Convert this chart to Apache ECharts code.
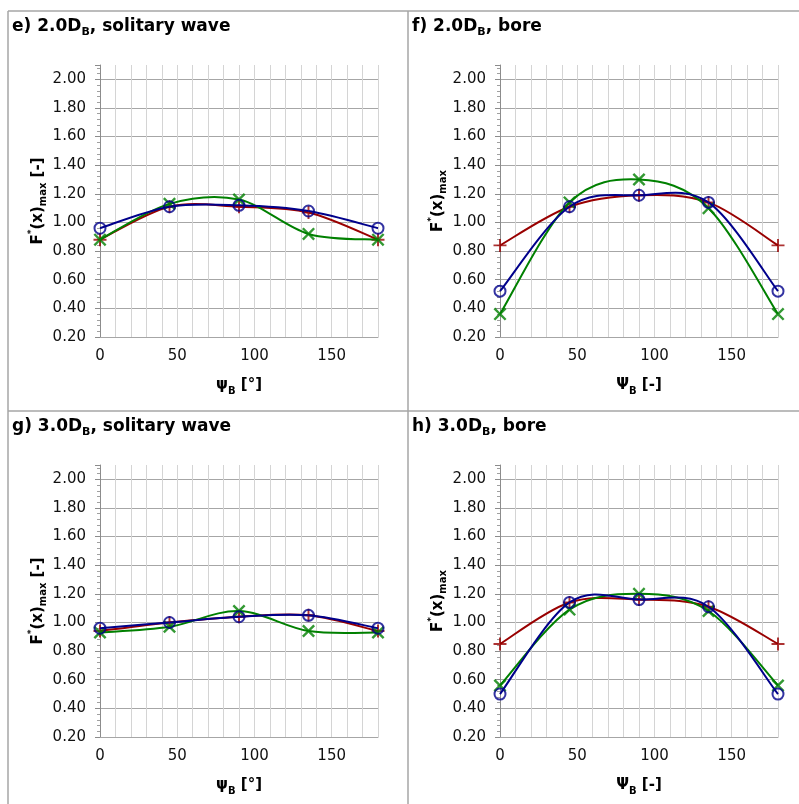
<!DOCTYPE html>
<html>
<head>
<meta charset="utf-8">
<script src="https://cdn.jsdelivr.net/npm/echarts@6/dist/echarts.min.js"></script>
<style>
html,body{margin:0;padding:0;background:#fff;}
#chart{width:799px;height:804px;}
</style>
</head>
<body>
<div id="chart"></div>
<script>
// ---- data ----
const angles = [0, 45, 90, 135, 180];

const e_red   = [0.88, 1.11, 1.11, 1.07, 0.88];
const e_green = [0.88, 1.13, 1.16, 0.92, 0.88];
const e_blue  = [0.96, 1.11, 1.12, 1.08, 0.96];

const f_red   = [0.84, 1.11, 1.19, 1.14, 0.84];
const f_green = [0.36, 1.14, 1.30, 1.10, 0.36];
const f_blue  = [0.52, 1.11, 1.19, 1.14, 0.52];

const g_red   = [0.94, 1.00, 1.04, 1.05, 0.94];
const g_green = [0.93, 0.97, 1.08, 0.94, 0.93];
const g_blue  = [0.96, 1.00, 1.04, 1.05, 0.96];

const h_red   = [0.85, 1.14, 1.16, 1.11, 0.85];
const h_green = [0.56, 1.09, 1.20, 1.08, 0.56];
const h_blue  = [0.50, 1.14, 1.16, 1.11, 0.50];

const xTickLabels = [0, 50, 100, 150];
const yTickLabels = ['0.20','0.40','0.60','0.80','1.00','1.20','1.40','1.60','1.80','2.00'];

const panelTitles = [
  ['e) 2.0D', 'B', ', solitary wave'],
  ['f) 2.0D', 'B', ', bore'],
  ['g) 3.0D', 'B', ', solitary wave'],
  ['h) 3.0D', 'B', ', bore']
];
const xNames = [['ψ','B',' [°]'], ['Ψ','B',' [-]'], ['ψ','B',' [°]'], ['Ψ','B',' [-]']];
const yNames = [' [-]', '', ' [-]', ''];

// ---- layout / style ----
const FONT = 'DejaVu Sans';
const RED = '#990000', GREEN = '#008000', BLUE = '#00008B';
const panels = [
  {left: 100, top: 65,  tx: 12,  ty: 16,  data: [e_red, e_green, e_blue]},
  {left: 500, top: 65,  tx: 412, ty: 16,  data: [f_red, f_green, f_blue]},
  {left: 100, top: 465, tx: 12,  ty: 416, data: [g_red, g_green, g_blue]},
  {left: 500, top: 465, tx: 412, ty: 416, data: [h_red, h_green, h_blue]}
];
const PLUS = 'path://M8.5,0H11.5V8.5H20V11.5H11.5V20H8.5V11.5H0V8.5H8.5Z';

const grids = [], xAxes = [], yAxes = [], series = [], titles = [];

const richBase = {
  b:   {fontFamily: FONT, fontWeight: 'bold', fontSize: 15, lineHeight: 22, color: '#000'},
  s:   {fontFamily: FONT, fontWeight: 'bold', fontSize: 10, lineHeight: 10, verticalAlign: 'bottom', color: '#000'},
  sup: {fontFamily: FONT, fontWeight: 'bold', fontSize: 9, lineHeight: 9, verticalAlign: 'top', color: '#000'}
};

// Excel-style smoothed segment (uniform Catmull-Rom as cubic Bezier), drawn through the axes' coord()
function smoothRenderer(vals, color) {
  return function (params, api) {
    const j = params.dataIndex;
    const n = angles.length;
    if (j >= n - 1) return null;
    const P = k => api.coord([angles[Math.max(0, Math.min(n - 1, k))], vals[Math.max(0, Math.min(n - 1, k))]]);
    const p0 = P(j - 1), p1 = P(j), p2 = P(j + 1), p3 = P(j + 2);
    return {
      type: 'bezierCurve',
      shape: {
        x1: p1[0], y1: p1[1], x2: p2[0], y2: p2[1],
        cpx1: p1[0] + (p2[0] - p0[0]) / 6, cpy1: p1[1] + (p2[1] - p0[1]) / 6,
        cpx2: p2[0] - (p3[0] - p1[0]) / 6, cpy2: p2[1] - (p3[1] - p1[1]) / 6
      },
      style: {stroke: color, lineWidth: 2, fill: null},
      silent: true
    };
  };
}

panels.forEach((p, i) => {
  grids.push({left: p.left, top: p.top, width: 278, height: 272, containLabel: false});
  titles.push({
    left: p.tx, top: p.ty, padding: 0,
    text: '{t|' + panelTitles[i][0] + '}{ts|' + panelTitles[i][1] + '}{t|' + panelTitles[i][2] + '}',
    textStyle: {
      rich: {
        t:  {fontFamily: FONT, fontWeight: 'bold', fontSize: 17, lineHeight: 22, color: '#000'},
        ts: {fontFamily: FONT, fontWeight: 'bold', fontSize: 11, lineHeight: 10, verticalAlign: 'bottom', color: '#000'}
      }
    }
  });
  xAxes.push({
    gridIndex: i, type: 'value', min: 0, max: 180, interval: 10,
    name: '{b|' + xNames[i][0] + '}{s|' + xNames[i][1] + '}{b|' + xNames[i][2] + '}',
    nameLocation: 'middle', nameGap: 37,
    nameTextStyle: {rich: richBase},
    axisLine: {show: true, onZero: false, lineStyle: {color: '#a6a6a6', width: 1}},
    axisTick: {show: false},
    axisLabel: {
      margin: 12, fontFamily: FONT, fontSize: 15, color: '#111',
      formatter: v => (xTickLabels.indexOf(v) >= 0 ? String(v) : '')
    },
    splitLine: {show: true, lineStyle: {color: '#d4d4d4', width: 1}}
  });
  yAxes.push({
    gridIndex: i, type: 'value', min: 0.2, max: 2.1, interval: 0.2,
    name: '{b|F}{sup|*}{b|(x)}{s|max}{b|' + yNames[i] + '}',
    nameLocation: 'middle', nameGap: 47,
    nameTextStyle: {rich: richBase},
    axisLine: {show: true, lineStyle: {color: '#8c8c8c', width: 1}},
    axisTick: {show: true, length: 5, lineStyle: {color: '#8c8c8c'}},
    minorTick: {show: true, splitNumber: 5, length: 3, lineStyle: {color: '#a0a0a0'}},
    axisLabel: {
      margin: 14, fontFamily: FONT, fontSize: 15, color: '#111', showMaxLabel: false,
      formatter: v => {
        const s = v.toFixed(2);
        return yTickLabels.indexOf(s) >= 0 ? s : '';
      }
    },
    splitLine: {show: true, showMaxLine: false, lineStyle: {color: '#a6a6a6', width: 1}}
  });
  const defs = [
    {color: RED,   symbol: PLUS, size: 13, rot: 0},
    {color: GREEN, symbol: PLUS, size: 16, rot: 45},
    {color: BLUE,  symbol: 'circle', size: 11, rot: 0}
  ];
  defs.forEach((d, k) => {
    const vals = p.data[k];
    const pts = angles.map((a, j) => [a, vals[j]]);
    series.push({
      type: 'custom', coordinateSystem: 'cartesian2d', xAxisIndex: i, yAxisIndex: i,
      data: pts, encode: {x: 0, y: 1},
      renderItem: smoothRenderer(vals, d.color),
      animation: false, silent: true,
      z: 3 + 2 * k
    });
    series.push({
      type: 'scatter', xAxisIndex: i, yAxisIndex: i,
      data: pts,
      symbol: d.symbol, symbolSize: d.size, symbolRotate: d.rot,
      itemStyle: d.symbol === 'circle'
        ? {color: 'rgba(0,0,0,0)', borderColor: d.color, borderWidth: 2}
        : {color: d.color, borderWidth: 0},
      emphasis: {disabled: true},
      animation: false, silent: true,
      z: 4 + 2 * k
    });
  });
});

const borderStyle = {stroke: '#a6a6a6', lineWidth: 1.5};
const graphic = [
  {type: 'line', shape: {x1: 8, y1: 11, x2: 799, y2: 11}, style: borderStyle, silent: true},
  {type: 'line', shape: {x1: 8, y1: 411, x2: 799, y2: 411}, style: borderStyle, silent: true},
  {type: 'line', shape: {x1: 8, y1: 11, x2: 8, y2: 804}, style: borderStyle, silent: true},
  {type: 'line', shape: {x1: 408, y1: 11, x2: 408, y2: 804}, style: borderStyle, silent: true}
];

const chart = echarts.init(document.getElementById('chart'), null, {renderer: 'canvas'});
chart.setOption({
  backgroundColor: '#fff',
  animation: false,
  title: titles,
  grid: grids,
  xAxis: xAxes,
  yAxis: yAxes,
  series: series,
  graphic: graphic
});
</script>
</body>
</html>
